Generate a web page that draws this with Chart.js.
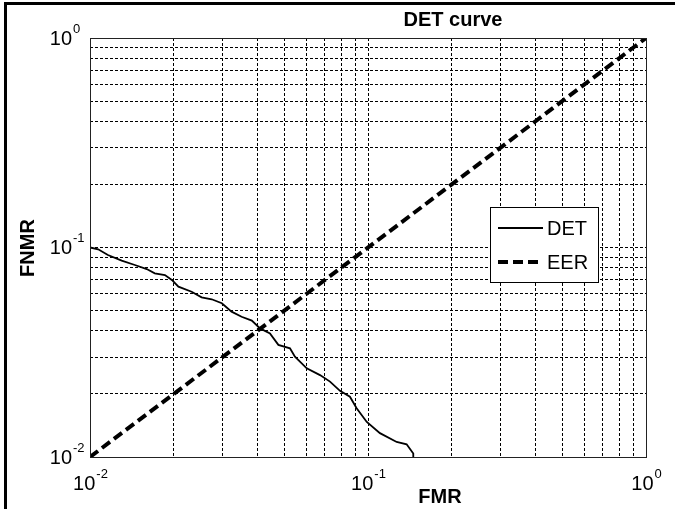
<!DOCTYPE html>
<html>
<head>
<meta charset="utf-8">
<script src="https://cdn.jsdelivr.net/npm/chart.js@4"></script>
<style>
  html, body { margin: 0; padding: 0; background: #fff; }
  #wrap { width: 675px; height: 509px; }
</style>
</head>
<body>
<div id="wrap"><canvas id="det-chart" width="675" height="509"></canvas></div>
<script>
// DET curve (FMR on x, FNMR on y)
const detFmr = [0.0100, 0.0107, 0.0116, 0.0130, 0.0145, 0.0160, 0.0171, 0.0186, 0.0197, 0.0208,
    0.0232, 0.0252, 0.0274, 0.0298, 0.0323, 0.0351, 0.0382, 0.0409, 0.0444, 0.0476,
    0.0524, 0.0546, 0.0602, 0.0672, 0.0730, 0.0793, 0.0861, 0.0910, 0.0990, 0.1104,
    0.1268, 0.1377, 0.1455, 0.1455];
const detFnmr = [0.1000, 0.0980, 0.0921, 0.0865, 0.0825, 0.0789, 0.0753, 0.0739, 0.0700, 0.0650,
    0.0615, 0.0578, 0.0566, 0.0542, 0.0494, 0.0467, 0.0448, 0.0411, 0.0389, 0.0343,
    0.0330, 0.0301, 0.0265, 0.0246, 0.0229, 0.0207, 0.0194, 0.0171, 0.0147, 0.0130,
    0.0118, 0.0115, 0.0104, 0.0100];

// equal error rate line
const eerFmr = [0.01, 1];
const eerFnmr = [0.01, 1];

// axis range, grid positions and labelled decades
const axisMin = 0.01;
const axisMax = 1;
const gridTicks = [0.01, 0.02, 0.03, 0.04, 0.05, 0.06, 0.07, 0.08, 0.09,
    0.1, 0.2, 0.3, 0.4, 0.5, 0.6, 0.7, 0.8, 0.9, 1];
const decadeTicks = [0.01, 0.1, 1];
const decadeExps = ['-2', '-1', '0'];

const FONT = '"Liberation Sans", Arial, sans-serif';

const toPoints = (xs, ys) => xs.map((x, i) => ({ x, y: ys[i] }));

// frame, axes box, tick labels, titles and legend, drawn the MATLAB way
const matlabDecor = {
    id: 'matlabDecor',
    beforeDraw(chart) {
        const ctx = chart.ctx;
        ctx.save();
        ctx.strokeStyle = '#000';
        ctx.lineWidth = 3;
        ctx.beginPath();
        ctx.moveTo(5.5, 520);
        ctx.lineTo(5.5, 3.5);
        ctx.lineTo(700, 3.5);
        ctx.stroke();
        ctx.restore();
    },
    afterDraw(chart) {
        const ctx = chart.ctx;
        const a = chart.chartArea;
        const xs = chart.scales.x;
        const ys = chart.scales.y;
        ctx.save();

        // axes box
        ctx.strokeStyle = '#222';
        ctx.lineWidth = 1;
        ctx.setLineDash([]);
        ctx.strokeRect(Math.round(a.left) + 0.5, Math.round(a.top) + 0.5,
            Math.round(a.right - a.left), Math.round(a.bottom - a.top));

        // tick labels 10^n
        ctx.fillStyle = '#000';
        ctx.textBaseline = 'middle';
        decadeTicks.forEach((v, i) => {
            ctx.font = '20px ' + FONT;
            const wBase = ctx.measureText('10').width;
            ctx.font = '13px ' + FONT;
            const wExp = ctx.measureText(decadeExps[i]).width;

            // x axis
            const px = xs.getPixelForValue(v);
            const x0 = px - (wBase + wExp) / 2;
            ctx.textAlign = 'left';
            ctx.font = '20px ' + FONT;
            ctx.fillText('10', x0, a.bottom + 27);
            ctx.font = '13px ' + FONT;
            ctx.fillText(decadeExps[i], x0 + wBase + 1, a.bottom + 17);

            // y axis
            const py = ys.getPixelForValue(v);
            ctx.textAlign = 'right';
            ctx.font = '20px ' + FONT;
            ctx.fillText('10', a.left - 18, py + 1);
            ctx.textAlign = 'left';
            ctx.font = '13px ' + FONT;
            ctx.fillText(decadeExps[i], a.left - 17, py - 9);
        });

        // titles
        ctx.font = 'bold 20px ' + FONT;
        ctx.textAlign = 'center';
        ctx.fillText('DET curve', 453, 20);
        ctx.fillText('FMR', 440, 497);
        ctx.save();
        ctx.translate(28, 248);
        ctx.rotate(-Math.PI / 2);
        ctx.fillText('FNMR', 0, 0);
        ctx.restore();

        // legend
        const lx = 490, ly = 207, lw = 108, lh = 75;
        ctx.fillStyle = '#fff';
        ctx.fillRect(lx, ly, lw, lh);
        ctx.strokeStyle = '#000';
        ctx.lineWidth = 1;
        ctx.strokeRect(lx + 0.5, ly + 0.5, lw, lh);
        chart.data.datasets.forEach((ds, i) => {
            const yy = ly + 21 + i * 34;
            ctx.strokeStyle = ds.borderColor;
            ctx.lineWidth = ds.borderWidth;
            ctx.setLineDash(ds.borderDash || []);
            ctx.beginPath();
            ctx.moveTo(lx + 8, yy);
            ctx.lineTo(lx + 53, yy);
            ctx.stroke();
            ctx.setLineDash([]);
            ctx.fillStyle = '#000';
            ctx.font = '20px ' + FONT;
            ctx.textAlign = 'left';
            ctx.fillText(ds.label, lx + 57, yy + 1);
        });
        ctx.restore();
    }
};

const gridScale = (axisMinV, axisMaxV) => ({
    type: 'logarithmic',
    min: axisMinV,
    max: axisMaxV,
    afterBuildTicks: (scale) => {
        scale.ticks = gridTicks.map(v => ({ value: v }));
    },
    ticks: { display: false, autoSkip: false },
    grid: { color: '#000', lineWidth: 1, drawTicks: false, borderDash: [3, 2] },
    border: { display: false, dash: [3, 2] },
    title: { display: false }
});

new Chart(document.getElementById('det-chart').getContext('2d'), {
    type: 'line',
    data: {
        datasets: [{
            label: 'DET',
            data: toPoints(detFmr, detFnmr),
            borderColor: '#000',
            borderWidth: 1.8,
            pointRadius: 0,
            tension: 0,
            fill: false
        }, {
            label: 'EER',
            data: toPoints(eerFmr, eerFnmr),
            borderColor: '#000',
            borderWidth: 4,
            borderDash: [10, 5],
            borderCapStyle: 'butt',
            pointRadius: 0,
            tension: 0,
            fill: false
        }]
    },
    options: {
        responsive: false,
        animation: false,
        layout: { padding: { left: 90, top: 38, right: 29, bottom: 52 } },
        scales: {
            x: gridScale(axisMin, axisMax),
            y: gridScale(axisMin, axisMax)
        },
        plugins: {
            legend: { display: false },
            tooltip: { enabled: false }
        }
    },
    plugins: [matlabDecor]
});
</script>
</body>
</html>
